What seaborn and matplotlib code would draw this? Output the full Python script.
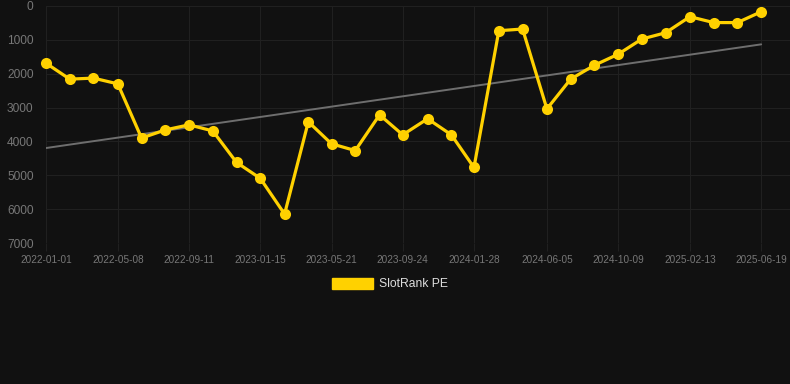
import matplotlib
matplotlib.use("Agg")
import matplotlib.pyplot as plt
import matplotlib.dates as mdates
from matplotlib.patches import Patch
import numpy as np
import pandas as pd
import seaborn as sns

# ---- data ----
dates = [
    "2022-01-01", "2022-02-12", "2022-03-26", "2022-05-08", "2022-06-19", "2022-07-31",
    "2022-09-11", "2022-10-23", "2022-12-04", "2023-01-15", "2023-02-27", "2023-04-10",
    "2023-05-21", "2023-07-02", "2023-08-14", "2023-09-24", "2023-11-07", "2023-12-19",
    "2024-01-28", "2024-03-12", "2024-04-23", "2024-06-05", "2024-07-17", "2024-08-28",
    "2024-10-09", "2024-11-20", "2025-01-01", "2025-02-13", "2025-03-27", "2025-05-08",
    "2025-06-19",
]
rank = [
    1690, 2160, 2130, 2300, 3900, 3660, 3510, 3690, 4620, 5090, 6145, 3420,
    4070, 4270, 3215, 3805, 3330, 3805, 4770, 730, 680, 3040, 2160, 1750,
    1425, 975, 790, 315, 490, 490, 170,
]
tick_labels = [
    "2022-01-01", "2022-05-08", "2022-09-11", "2023-01-15", "2023-05-21", "2023-09-24",
    "2024-01-28", "2024-06-05", "2024-10-09", "2025-02-13", "2025-06-19",
]
y_ticks = [0, 1000, 2000, 3000, 4000, 5000, 6000, 7000]
series_name = "SlotRank PE"

# ---- style ----
BG = "#111111"
GRID = "#202020"
YELLOW = "#FFD100"
LABEL = "#777777"

sns.set_theme(style="dark", rc={
    "figure.facecolor": BG,
    "axes.facecolor": BG,
    "axes.edgecolor": BG,
    "grid.color": GRID,
})
plt.rcParams["font.family"] = ["Liberation Sans", "DejaVu Sans"]

df = pd.DataFrame({"date": pd.to_datetime(dates), "rank": rank})

fig = plt.figure(figsize=(7.9, 3.84), dpi=100)
ax = fig.add_axes([46 / 790, 1 - 243 / 384, 1 - 46 / 790, (243 - 6) / 384])

# trend line (linear regression)
xnum = mdates.date2num(df["date"])
coef = np.polyfit(xnum, df["rank"], 1)
trend = np.polyval(coef, xnum)
ax.plot(df["date"], trend, color="#6e6e6e", lw=1.4, zorder=2)

sns.lineplot(data=df, x="date", y="rank", ax=ax, color=YELLOW, lw=2.3,
             marker="o", markersize=8, markeredgewidth=0, zorder=3,
             clip_on=False, legend=False)

start = pd.Timestamp(dates[0])
end = pd.Timestamp(dates[-1])
ax.set_xlim(start, end + pd.Timedelta(days=51))
ax.set_ylim(7000, 0)

ax.set_xticks(pd.to_datetime(tick_labels))
ax.set_xticklabels(tick_labels)
ax.set_yticks(y_ticks)
ax.set_yticklabels([str(v) for v in y_ticks])

ax.grid(True, color=GRID, lw=0.8)
ax.tick_params(axis="x", labelsize=7.2, length=6, width=0.8,
               color=GRID, pad=2.5, labelcolor=LABEL, bottom=True)
ax.tick_params(axis="y", labelsize=8.6, length=0, pad=9,
               labelcolor=LABEL, left=False)
for s in ax.spines.values():
    s.set_visible(False)
ax.set_xlabel("")
ax.set_ylabel("")

handle = Patch(facecolor=YELLOW, edgecolor=YELLOW, label=series_name)
leg = fig.legend(handles=[handle], loc="center", bbox_to_anchor=(390 / 790, 1 - 284 / 384),
                 frameon=False, fontsize=8.7, handlelength=3.4, handleheight=1.0,
                 handletextpad=0.5)
for t in leg.get_texts():
    t.set_color("#dddddd")

fig.savefig("out.png", dpi=100, facecolor=BG)
